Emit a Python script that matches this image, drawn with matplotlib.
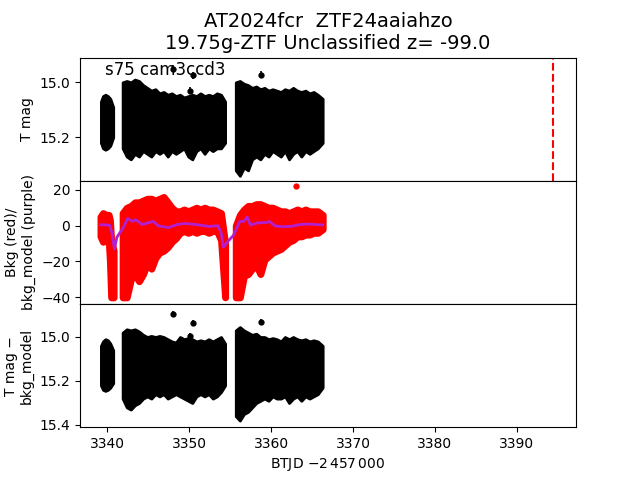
import numpy as np
import matplotlib
matplotlib.use("Agg")
import matplotlib.pyplot as plt

# ---- data (BTJD - 2457000) ----
# light curve envelopes (upper = brighter edge, lower = fainter edge), per orbit chunk
t_seg0 = [3339.25, 3339.5, 3339.8, 3340.1, 3340.4, 3340.75]
t_seg1 = [3341.9, 3342.4, 3342.9, 3343.4, 3343.9, 3344.4, 3344.9, 3345.4, 3345.9,
          3346.4, 3346.9, 3347.4, 3347.9, 3348.4, 3348.9, 3349.4, 3349.9, 3350.4,
          3350.9, 3351.4, 3351.9, 3352.4, 3352.9, 3353.4, 3353.9, 3354.4]
t_seg2 = [3355.7, 3356.2, 3356.7, 3357.2, 3357.7, 3358.2, 3358.7, 3359.2, 3359.7,
          3360.2, 3360.7, 3361.2, 3361.7, 3362.2, 3362.7, 3363.2, 3363.7, 3364.2,
          3364.7, 3365.2, 3365.7, 3366.3]

tmag_hi0 = [15.07, 15.05, 15.045, 15.05, 15.06, 15.09]
tmag_lo0 = [15.22, 15.24, 15.245, 15.24, 15.23, 15.20]
tmag_hi1 = [15.0, 14.995, 15.0, 14.99, 14.995, 15.01, 15.02, 15.03, 15.025, 15.04,
            15.035, 15.045, 15.04, 15.05, 15.045, 15.055, 15.05, 15.045, 15.05, 15.04,
            15.05, 15.045, 15.05, 15.04, 15.045, 15.07]
tmag_lo1 = [15.24, 15.27, 15.28, 15.26, 15.27, 15.25, 15.26, 15.27, 15.25, 15.26,
            15.25, 15.27, 15.25, 15.26, 15.25, 15.24, 15.27, 15.28, 15.25, 15.24,
            15.26, 15.24, 15.25, 15.24, 15.24, 15.22]
tmag_hi2 = [15.0, 14.995, 15.005, 15.01, 15.02, 15.015, 15.025, 15.02, 15.03, 15.025,
            15.03, 15.035, 15.025, 15.03, 15.02, 15.03, 15.035, 15.03, 15.04, 15.035,
            15.045, 15.06]
tmag_lo2 = [15.32, 15.34, 15.31, 15.32, 15.28, 15.27, 15.28, 15.26, 15.27, 15.25,
            15.26, 15.27, 15.25, 15.28, 15.26, 15.25, 15.27, 15.25, 15.26, 15.25,
            15.24, 15.22]

diff_hi0 = [15.04, 15.02, 15.01, 15.015, 15.03, 15.06]
diff_lo0 = [15.22, 15.24, 15.245, 15.24, 15.23, 15.21]
diff_hi1 = [14.98, 14.965, 14.97, 14.965, 14.975, 14.99, 15.0, 14.995, 15.0, 14.995,
            15.0, 15.01, 15.02, 15.025, 15.0, 15.01, 15.005, 15.01, 15.02, 15.015,
            15.02, 15.01, 15.02, 15.01, 15.0, 15.03]
diff_lo1 = [15.28, 15.32, 15.33, 15.31, 15.3, 15.28, 15.27, 15.28, 15.26, 15.27,
            15.26, 15.28, 15.27, 15.26, 15.27, 15.28, 15.29, 15.3, 15.27, 15.26,
            15.27, 15.26, 15.28, 15.27, 15.25, 15.22]
diff_hi2 = [14.97, 14.955, 14.97, 14.98, 14.99, 14.985, 15.0, 15.0, 15.01, 15.005,
            15.01, 15.02, 15.0, 15.01, 15.0, 15.01, 15.015, 15.01, 15.02, 15.015,
            15.02, 15.04]
diff_lo2 = [15.36, 15.38, 15.35, 15.34, 15.32, 15.3, 15.29, 15.28, 15.29, 15.27,
            15.28, 15.28, 15.27, 15.3, 15.28, 15.27, 15.29, 15.27, 15.28, 15.27,
            15.26, 15.23]

# isolated outliers
out_t = [3348.1, 3350.5, 3350.1, 3358.8]
out_tmag = [14.95, 14.975, 15.03, 14.972]
out_diff = [14.894, 14.936, 14.997, 14.932]
out_err = [0.014, 0.014, 0.014, 0.014]

# background envelopes
tb_seg0 = [3339.2, 3339.5, 3339.9, 3340.2, 3340.35, 3340.5, 3340.8]
bkg_hi0 = [5, 7, 6, 6, 3, -8, -14]
bkg_lo0 = [-6, -9, -8, -8, -20, -40, -40]
bkg_hi1 = [7, 10, 11, 13, 13, 14, 15, 15, 14, 15, 16, 13, 10, 8, 8, 9, 8, 9, 10, 9,
           10, 9, 9, 8, 7, -10]
bkg_lo1 = [-40, -40, -30, -27, -31, -27, -21, -24, -18, -15, -14, -12, -9, -7, -4,
           -3, -4, -3, -4, -3, -3, -4, -3, -3, -8, -40]
bkg_hi2 = [0, 6, 9, 11, 11, 12, 12, 11, 10, 10, 9, 8, 8, 7, 8, 9, 8, 9, 8, 8, 8, 6]
bkg_lo2 = [-40, -40, -28, -27, -24, -22, -27, -19, -17, -15, -14, -13, -11, -9, -8,
           -6, -6, -5, -5, -4, -4, -2]
bkg_out_t = [3363.0]
bkg_out = [22]

# background model (purple)
model_t = [3339.2, 3340.3, 3340.6, 3340.9, 3341.2, 3341.6, 3341.9, 3342.5, 3343.1,
           3343.5, 3344.3, 3345.6, 3346.3, 3347.5, 3348.5, 3349.5, 3350.5, 3351.5,
           3352.5, 3353.5, 3353.9, 3354.2, 3354.8, 3355.4, 3356.2, 3356.7, 3357.1,
           3357.5, 3358.3, 3359.5, 3359.8, 3360.5, 3361.5, 3362.5, 3363.5, 3364.5,
           3365.5, 3366.3]
model = [0.5, 0.3, -4, -13, -6.5, -3.7, -1.8, 4, 2.4, 3.3, 0.6, 2.4, -0.2, -1.1, 0.6,
         1.2, 0.8, 0.2, -0.5, 0.0, -3.7, -12, -8.5, -5.5, 2.4, 2.4, 4.8, 0.3, 1.5,
         1.8, 2.4, -0.2, -0.6, -0.4, 0.6, 0.9, 0.6, 0.4]

vline_t = 3394.35

fig, axes = plt.subplots(3, 1, sharex=True, figsize=(6.4, 4.8))
fig.subplots_adjust(hspace=0)
ax1, ax2, ax3 = axes

lc_segs = [(t_seg0, tmag_hi0, tmag_lo0), (t_seg1, tmag_hi1, tmag_lo1), (t_seg2, tmag_hi2, tmag_lo2)]
for t, hi, lo in lc_segs:
    ax1.fill_between(t, hi, lo, color="k", lw=2, joinstyle="round")
ax1.errorbar(out_t, out_tmag, yerr=out_err, fmt="o", color="k", ms=3.5, elinewidth=1.2)
ax1.axvline(vline_t, color="r", ls="--")
ax1.set_ylim(15.358, 14.91)
ax1.set_yticks([15.0, 15.2])
ax1.set_ylabel("T mag")
ax1.text(0.05, 0.9, "s75 cam3ccd3", transform=ax1.transAxes, fontsize=12, va="center")
ax1.set_title("AT2024fcr  ZTF24aaiahzo\n19.75g-ZTF Unclassified z= -99.0", fontsize=14)

bkg_segs = [(tb_seg0, bkg_hi0, bkg_lo0), (t_seg1, bkg_hi1, bkg_lo1), (t_seg2, bkg_hi2, bkg_lo2)]
for t, hi, lo in bkg_segs:
    ax2.fill_between(t, hi, lo, color="r", lw=5, joinstyle="round")
ax2.plot(bkg_out_t, bkg_out, "o", color="r", ms=3.5)
ax2.plot(model_t, model, color="#b020d0", lw=2)
ax2.set_ylim(-43.7, 25)
ax2.set_yticks([20, 0, -20, -40])
ax2.set_ylabel("Bkg (red)/\nbkg_model (purple)")

diff_segs = [(t_seg0, diff_hi0, diff_lo0), (t_seg1, diff_hi1, diff_lo1), (t_seg2, diff_hi2, diff_lo2)]
for t, hi, lo in diff_segs:
    ax3.fill_between(t, hi, lo, color="k", lw=2, joinstyle="round")
ax3.errorbar(out_t, out_diff, yerr=out_err, fmt="o", color="k", ms=3.5, elinewidth=1.2)
ax3.set_ylim(15.41, 14.85)
ax3.set_yticks([15.0, 15.2, 15.4])
ax3.set_ylabel("T mag \u2212\nbkg_model")

ax3.set_xlim(3336.7, 3397.2)
ax3.set_xlabel("BTJD $-2\\,457\\,000$")

fig.savefig("out.png", dpi=100)
